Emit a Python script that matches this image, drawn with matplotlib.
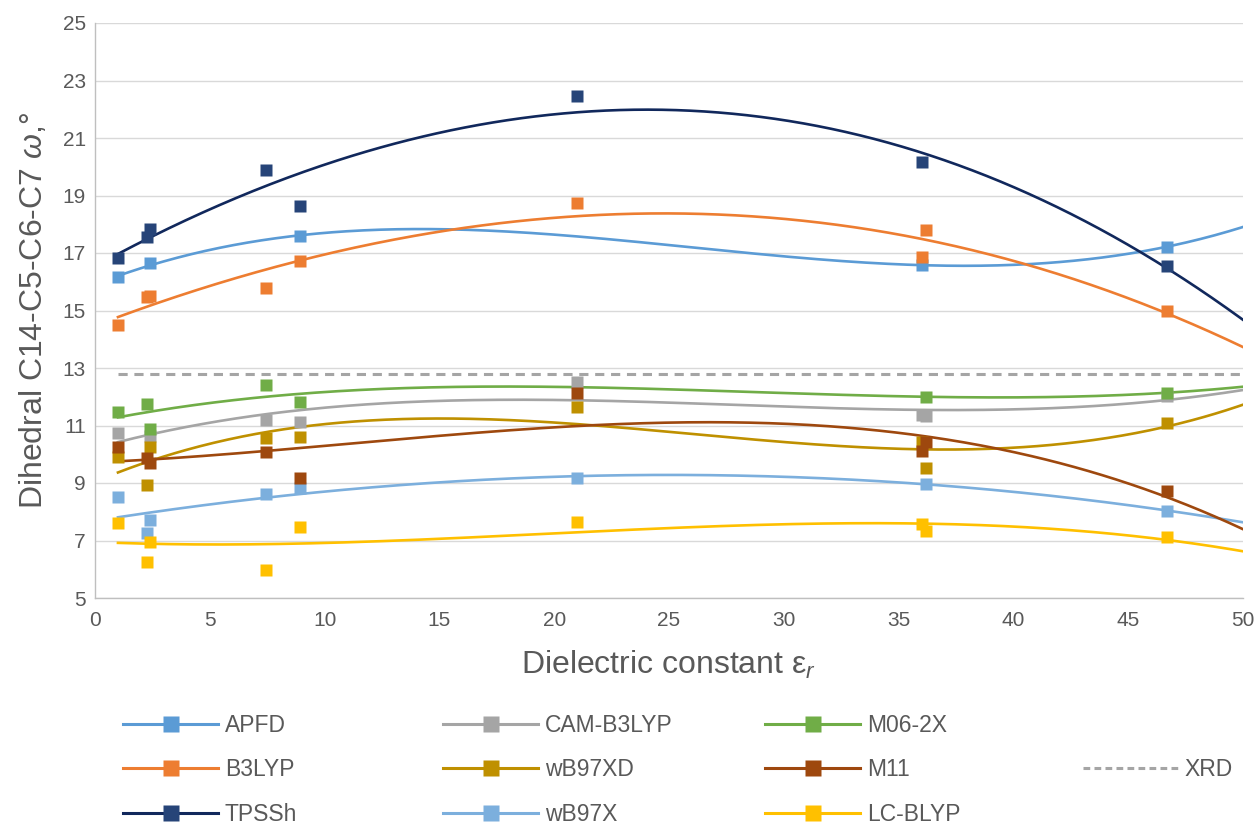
import numpy as np
import matplotlib
matplotlib.use("Agg")
import matplotlib.pyplot as plt
from matplotlib.lines import Line2D
from matplotlib import font_manager

# ---------------- data ----------------
apfd_x = [1, 2.4, 8.95, 36.0, 46.7]
apfd_y = [16.15, 16.64, 17.6, 16.58, 17.22]

b3lyp_x = [1, 2.27, 2.4, 7.45, 8.95, 21.0, 36.0, 36.2, 46.7]
b3lyp_y = [14.5, 15.48, 15.5, 15.78, 16.72, 18.74, 16.87, 17.8, 14.98]

tpssh_x = [1, 2.27, 2.4, 7.45, 8.95, 21.0, 36.0, 46.7]
tpssh_y = [16.82, 17.57, 17.82, 19.9, 18.65, 22.46, 20.18, 16.56]

cam_x = [1, 2.4, 7.45, 8.95, 21.0, 36.0, 36.2, 46.7]
cam_y = [10.73, 10.63, 11.19, 11.12, 12.52, 11.35, 11.33, 12.02]

m062x_x = [1, 2.27, 2.4, 7.45, 8.95, 36.2, 46.7]
m062x_y = [11.48, 11.74, 10.87, 12.41, 11.83, 12.0, 12.14]

wb97xd_x = [1, 2.27, 2.4, 7.45, 8.95, 21.0, 36.0, 36.2, 46.7]
wb97xd_y = [9.89, 8.92, 10.24, 10.58, 10.61, 11.65, 10.44, 9.51, 11.1]

m11_x = [1, 2.27, 2.4, 7.45, 8.95, 21.0, 36.0, 36.2, 46.7]
m11_y = [10.24, 9.86, 9.68, 10.09, 9.18, 12.12, 10.12, 10.44, 8.73]

wb97x_x = [1, 2.27, 2.4, 7.45, 8.95, 21.0, 36.2, 46.7]
wb97x_y = [8.52, 7.25, 7.71, 8.62, 8.81, 9.16, 8.97, 8.04]

lcblyp_x = [1, 2.27, 2.4, 7.45, 8.95, 21.0, 36.0, 36.2, 46.7]
lcblyp_y = [7.6, 6.26, 6.96, 5.99, 7.48, 7.63, 7.57, 7.34, 7.11]

xrd_x = [1, 50]
xrd_value = 12.8

x_ticks = [0, 5, 10, 15, 20, 25, 30, 35, 40, 45, 50]
y_ticks = [5, 7, 9, 11, 13, 15, 17, 19, 21, 23, 25]

# ---------------- fonts ----------------
def have(fam):
    try:
        font_manager.findfont(font_manager.FontProperties(family=fam), fallback_to_default=False)
        return True
    except Exception:
        return False

FAM = "Liberation Sans" if have("Liberation Sans") else "DejaVu Sans"
plt.rcParams["font.family"] = [FAM, "DejaVu Sans"]
plt.rcParams["mathtext.fontset"] = "custom"
plt.rcParams["mathtext.rm"] = FAM
plt.rcParams["mathtext.it"] = FAM + ":italic"
plt.rcParams["mathtext.bf"] = FAM + ":bold"

TXT = "#595959"

series = [
    ("APFD", apfd_x, apfd_y, "#5B9BD5", "#5B9BD5", 3),
    ("B3LYP", b3lyp_x, b3lyp_y, "#ED7D31", "#ED7D31", 3),
    ("TPSSh", tpssh_x, tpssh_y, "#11285C", "#264478", 3),
    ("CAM-B3LYP", cam_x, cam_y, "#A5A5A5", "#A5A5A5", 3),
    ("wB97XD", wb97xd_x, wb97xd_y, "#BF9000", "#BF9000", 3),
    ("wB97X", wb97x_x, wb97x_y, "#7CAFDD", "#7CAFDD", 3),
    ("M06-2X", m062x_x, m062x_y, "#70AD47", "#70AD47", 3),
    ("M11", m11_x, m11_y, "#9E480E", "#9E480E", 3),
    ("LC-BLYP", lcblyp_x, lcblyp_y, "#FFC000", "#FFC000", 3),
]

W, H = 1259, 827
fig = plt.figure(figsize=(W / 100, H / 100), dpi=100)
ax = fig.add_axes([95 / W, 1 - 598 / H, (1243 - 95) / W, (598 - 23) / H])

ax.set_xlim(0, 50)
ax.set_ylim(5, 25)
ax.set_xticks(x_ticks)
ax.set_yticks(y_ticks)
ax.grid(axis="y", color="#D9D9D9", lw=1.0)
ax.set_axisbelow(True)
for s in ["top", "right"]:
    ax.spines[s].set_visible(False)
for s in ["left", "bottom"]:
    ax.spines[s].set_color("#BFBFBF")
    ax.spines[s].set_linewidth(1.0)
ax.tick_params(axis="both", length=0, labelsize=15, colors=TXT)
ax.tick_params(axis="x", pad=9)
ax.tick_params(axis="y", pad=6.5)

# XRD reference
ax.plot(xrd_x, [xrd_value] * len(xrd_x), color="#A5A5A5", lw=2.2, ls=(0, (3, 2.2)), zorder=2)

xs_fit = np.linspace(1, 50, 400)
for name, xv, yv, lc, mc, deg in series:
    coef = np.polyfit(xv, yv, deg)
    ax.plot(xs_fit, np.polyval(coef, xs_fit), color=lc, lw=1.9, zorder=3)
for name, xv, yv, lc, mc, deg in series:
    ax.plot(xv, yv, ls="none", marker="s", ms=8, color=mc, mec="none", zorder=4)

ax.set_xlabel("Dielectric constant ε$_{\\mathit{r}}$", fontsize=23, color=TXT, labelpad=14)
ax.set_ylabel("Dihedral C14-C5-C6-C7 $\\mathit{\\omega}$,°", fontsize=23, color=TXT, labelpad=10)

# legend, 4 columns placed individually
def handle(lc, mc):
    return Line2D([], [], color=lc, lw=2.2, marker="s", ms=11, mfc=mc, mec="none")

cols = [
    [series[0], series[1], series[2]],
    [series[3], series[4], series[5]],
    [series[6], series[7], series[8]],
]
col_x = [123, 443, 765]
leg_kw = dict(loc="center left", frameon=False, fontsize=16.5, handlelength=4.15,
              handletextpad=0.3, labelspacing=0.95, borderpad=0, borderaxespad=0,
              labelcolor=TXT)
for cx, entries in zip(col_x, cols):
    hs = [handle(e[3], e[4]) for e in entries]
    ls = [e[0] for e in entries]
    lg = fig.legend(hs, ls, bbox_to_anchor=(cx / W, 1 - 770 / H), **leg_kw)
xrd_handle = Line2D([], [], color="#A5A5A5", lw=2.2, ls=(0, (2.2, 1.4)))
fig.legend([xrd_handle], ["XRD"], bbox_to_anchor=(1083 / W, 1 - 770 / H), **leg_kw)

fig.savefig("out.png", dpi=100)
